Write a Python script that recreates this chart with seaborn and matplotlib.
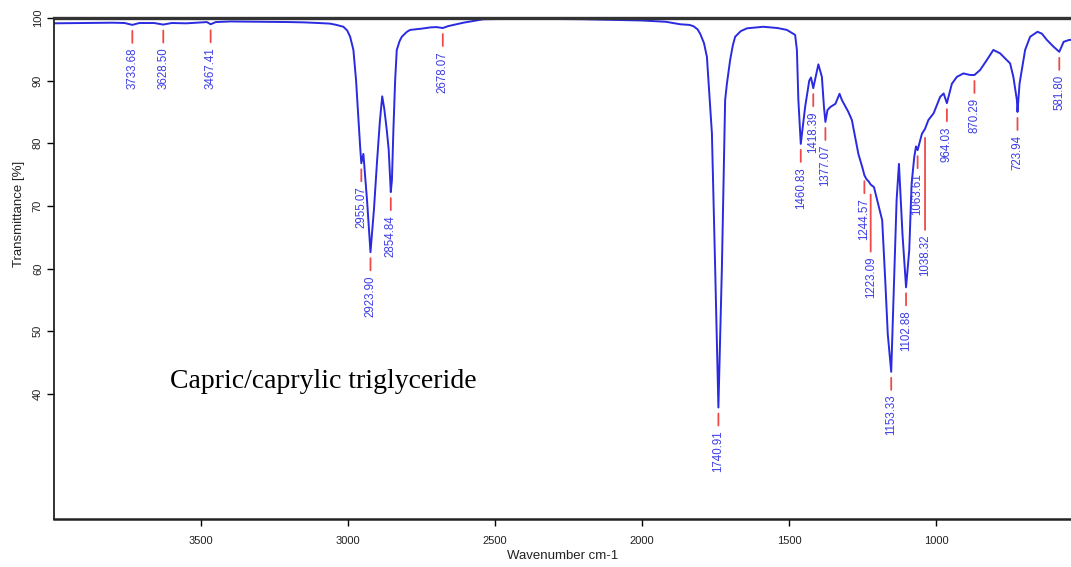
import matplotlib
matplotlib.use("Agg")
import matplotlib.pyplot as plt
import seaborn as sns
import numpy as np
import pandas as pd
from matplotlib.transforms import offset_copy

# ---------------- data ----------------
wavenumber = [4000, 3900, 3800, 3760, 3733.68, 3710, 3660, 3628.50, 3600, 3550,
              3500, 3480, 3467.41, 3450, 3400, 3300, 3200, 3150, 3100, 3061,
              3040, 3016, 3003, 2993, 2982, 2973, 2965, 2959, 2955.07, 2948, 2935,
              2923.90, 2912, 2902, 2892, 2884, 2877, 2868.5, 2862, 2854.84, 2851,
              2846, 2840, 2834.5, 2825, 2817.5, 2800, 2789, 2750, 2720, 2700, 2678.07, 2660,
              2608, 2540, 2472, 2400, 2300, 2200, 2100, 2000, 1920, 1871,
              1840, 1826, 1812, 1803, 1790, 1780, 1763, 1752, 1740.91, 1729, 1718, 1712, 1701,
              1692, 1684, 1665, 1644, 1588, 1540, 1508, 1480, 1474, 1469, 1460.83, 1446,
              1432, 1426, 1418.39, 1401, 1389, 1382, 1377.07, 1370, 1360, 1343,
              1329, 1321, 1299, 1287, 1265, 1250, 1244.57, 1238, 1230, 1223.09,
              1212, 1195, 1184, 1173, 1165, 1153.33, 1144, 1135, 1127, 1115,
              1102.88, 1092, 1084, 1075, 1069, 1063.61, 1049, 1038.32, 1027, 1009,
              987, 975, 964.03, 947, 930, 908, 885, 870.29, 851, 828,
              806, 783, 766, 749, 738, 726, 723.94, 717, 698, 681,
              656, 641, 624, 601, 581.80, 567, 548, 540]
transmittance = [99.15, 99.2, 99.25, 99.2, 98.9, 99.2, 99.2, 98.95, 99.2, 99.15,
                 99.3, 99.35, 99.0, 99.35, 99.45, 99.4, 99.35, 99.3, 99.2, 99.1,
                 98.9, 98.6, 98.0, 97.0, 94.9, 90.1, 84.0, 79.4, 76.8, 78.3, 70.5,
                 62.6, 69.5, 76.8, 83.5, 87.5, 85.5, 82.1, 79.0, 72.2, 74.1,
                 82.1, 90.1, 94.9, 96.3, 97.0, 97.8, 98.1, 98.3, 98.5, 98.55, 98.4, 98.7,
                 99.25, 99.8, 99.85, 99.9, 99.85, 99.8, 99.7, 99.6, 99.4, 99.0,
                 98.9, 98.7, 98.2, 97.5, 96.0, 93.8, 81.6, 60.2, 37.8, 60.2, 86.9, 89.5, 93.3,
                 95.6, 97.0, 97.9, 98.35, 98.6, 98.4, 98.1, 97.3, 94.9, 86.9, 79.9, 85.8,
                 90.0, 90.5, 88.8, 92.6, 90.6, 85.8, 83.4, 85.3, 85.8, 86.3,
                 87.9, 86.9, 85.0, 83.7, 78.3, 75.9, 74.9, 74.3, 73.9, 73.4,
                 73.0, 69.8, 67.7, 57.5, 49.5, 43.5, 57.5, 70.9, 76.7, 65.5,
                 57.0, 62.9, 73.5, 77.8, 79.5, 78.9, 81.5, 82.3, 83.7, 84.8,
                 87.4, 87.95, 86.4, 89.5, 90.6, 91.15, 90.9, 90.9, 91.7, 93.3,
                 94.9, 94.35, 93.55, 92.75, 90.6, 86.9, 85.0, 89.5, 94.9, 97.0,
                 97.8, 97.5, 96.5, 95.4, 94.6, 96.2, 96.5, 96.5]

peak_labels = ["3733.68", "3628.50", "3467.41", "2955.07", "2923.90", "2854.84",
               "2678.07", "1740.91", "1460.83", "1418.39", "1377.07", "1244.57",
               "1223.09", "1153.33", "1102.88", "1063.61", "1038.32", "964.03",
               "870.29", "723.94", "581.80"]

x_ticks = [3500, 3000, 2500, 2000, 1500, 1000]
y_ticks = [40, 50, 60, 70, 80, 90, 100]

sample_name = "Capric/caprylic triglyceride"
x_title = "Wavenumber cm-1"
y_title = "Transmittance [%]"

# ---------------- style ----------------
CURVE = "#2a2ae0"
LABEL = "#3c3ce6"
MARK = "#ee4a4a"

# leader-line layout in pixels (gap below curve, length); default and special ones
leader_default = (6, 12)
leader_special = {"1223.09": (10, 57), "1038.32": (9, 92)}
text_gap = 5

sns.set_theme(style="white")
plt.rcParams["font.family"] = ["Liberation Sans", "DejaVu Sans"]

fig = plt.figure(figsize=(10.71, 5.67), dpi=100)
ax = fig.add_axes([54 / 1071, 48 / 567, 1 - 54 / 1071, 501 / 567])

df = pd.DataFrame({"wn": wavenumber, "T": transmittance})
sns.lineplot(data=df, x="wn", y="T", ax=ax, color=CURVE, lw=1.4,
             estimator=None, sort=False)

ax.set_xlim(4000, 542)
ax.set_ylim(20, 100)
ax.set_xticks(x_ticks)
ax.set_xticklabels([str(v) for v in x_ticks])
ax.set_yticks(y_ticks)
ax.set_yticklabels([str(v) for v in y_ticks])

ax.tick_params(axis="both", bottom=True, left=True, direction="out",
               length=5, width=1, color="black", labelsize=8, labelcolor="#222222")
ax.tick_params(axis="x", pad=7)
ax.tick_params(axis="y", labelrotation=90, pad=3)
for lab in ax.get_yticklabels():
    lab.set_va("center")

ax.spines["right"].set_visible(False)
ax.spines["top"].set_linewidth(2.4)
ax.spines["top"].set_color("#333333")
ax.spines["bottom"].set_linewidth(1.8)
ax.spines["bottom"].set_color("#222222")
ax.spines["left"].set_linewidth(1.3)
ax.spines["left"].set_color("#222222")

ax.set_xlabel(x_title, fontsize=9.5, color="#222222", labelpad=3)
ax.set_ylabel(y_title, fontsize=9.5, color="#222222")
ax.yaxis.set_label_coords(-0.0285, 0.61)

wn_arr = np.array(wavenumber)[::-1]
t_arr = np.array(transmittance)[::-1]
for lab in peak_labels:
    w = float(lab)
    t = float(np.interp(w, wn_arr, t_arr))
    gap, length = leader_special.get(lab, leader_default)
    base = offset_copy(ax.transData, fig=fig, x=0, y=-gap, units="dots")
    ax.annotate("", xy=(w, t), xycoords=base, xytext=(0, -length),
                textcoords="offset pixels",
                arrowprops=dict(arrowstyle="-", color=MARK, lw=1.3,
                                shrinkA=0, shrinkB=0))
    ax.annotate(lab, xy=(w, t), xycoords="data",
                xytext=(0, -(gap + length + text_gap)), textcoords="offset pixels",
                rotation=90, ha="center", va="top", fontsize=8.3, color=LABEL)

ax.text(0.114, 0.2615, sample_name, transform=ax.transAxes,
        family=["Liberation Serif", "DejaVu Serif"], fontsize=20,
        color="black", va="baseline", ha="left")

fig.savefig("out.png", dpi=100)
